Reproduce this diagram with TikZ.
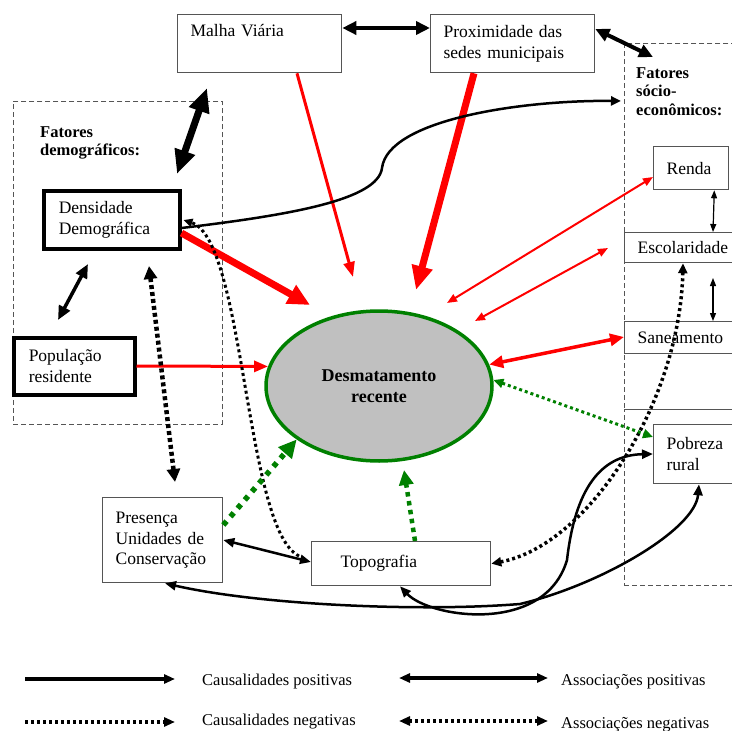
\documentclass[tikz,border=0pt]{standalone}
\usepackage{fontspec}
\setmainfont{Liberation Serif}
\usetikzlibrary{arrows.meta,shapes.geometric}
\definecolor{dgreen}{RGB}{0,128,0}
\definecolor{ellfill}{RGB}{192,192,192}
\definecolor{edge}{RGB}{85,85,85}
\begin{document}
\begin{tikzpicture}[x=1pt, y=-1pt, font=\fontsize{17.5}{20.5}\selectfont,
  box/.style={draw=edge, line width=1.3pt, anchor=north west, align=left, inner xsep=13pt, inner ysep=0pt},
  thickbox/.style={box, draw=black, line width=3.5pt, inner xsep=15pt},
  region/.style={draw=edge, line width=0.9pt, dash pattern=on 5pt off 3pt, anchor=north west, inner sep=0pt},
  grouptitle/.style={anchor=north west, align=left, inner sep=0pt, font=\bfseries\fontsize{16.5}{18.5}\selectfont},
  tipsize/.style 2 args={>={Triangle[length=#1,width=#2]}},
  neg/.style={dash pattern=on 3pt off 3pt},
  legendtext/.style={anchor=base west, inner sep=0pt, font=\fontsize{16.5}{20}\selectfont}]
\useasboundingbox (0,0) rectangle (732,731);
\clip (0,0) rectangle (732,731);

\node[box, minimum width=164pt, minimum height=58pt, text width=138pt] (malha) at (177,14) {Malha Viária\\\strut};
\node[box, minimum width=164pt, minimum height=58pt, text width=138pt] (prox) at (430,14) {Proximidade das\\sedes municipais};

\node[region, minimum width=209pt, minimum height=323pt] (demo) at (13,101) {};
\node[grouptitle] (demotitle) at (40,126) {Fatores\\demográficos:};
\node[thickbox, minimum width=136pt, minimum height=58pt, text width=106pt] (dens) at (42,189) {Densidade\\Demográfica};
\node[thickbox, minimum width=121pt, minimum height=57pt, text width=91pt] (pop) at (12,336) {População\\residente};

\node[region, minimum width=121pt, minimum height=366pt] (socio) at (624,43) {};
\node[region, minimum width=121pt, minimum height=176pt] (pobreg) at (624,409) {};
\node[grouptitle] (sociotitle) at (636,67) {Fatores\\sócio-\\econômicos:};
\node[box, minimum width=75pt, minimum height=43pt, text width=49pt] (renda) at (653,146) {Renda};
\node[box, minimum width=121pt, minimum height=30pt, text width=95pt] (escol) at (624,232) {Escolaridade};
\node[box, minimum width=121pt, minimum height=32pt, text width=95pt] (sane) at (624,321) {Saneamento};
\node[box, minimum width=92pt, minimum height=59pt, text width=66pt] (pobre) at (653,424) {Pobreza\\rural};

\node[box, minimum width=120pt, minimum height=85pt, text width=94pt] (pres) at (102,497) {Presença\\Unidades de\\Conservação};
\node[box, minimum width=179pt, minimum height=44pt, inner xsep=29pt, text width=121pt] (topo) at (311,541) {Topografia};

\node[ellipse, draw=dgreen, line width=3.5pt, fill=ellfill, minimum width=226pt, minimum height=150pt, inner sep=0pt,
  align=center, font=\bfseries\fontsize{18}{21}\selectfont] (ell) at (379,386) {Desmatamento\\recente};

\coordinate (mvLow) at (207,88);
\coordinate (demoTop) at (177,174);
\coordinate (mvTip) at (353,277);
\coordinate (pxTip) at (416,290);
\coordinate (dnTip) at (310,305);
\coordinate (dnLowA) at (88,264);
\coordinate (popTop) at (58,320);
\coordinate (dnLowB) at (149,266);
\coordinate (presTop) at (175,482);
\coordinate (rdTip) at (447,303);
\coordinate (esTipR) at (608,248);
\coordinate (esTipL) at (475,321);
\coordinate (esLow) at (713,278);
\coordinate (tpTip) at (404,470);

% associations between the groups
\draw[line width=4pt, tipsize={14pt}{13pt}, <->] ([yshift=-14pt]malha.north east) -- ([yshift=-14pt]prox.north west);
\draw[line width=4pt, tipsize={14pt}{13pt}, <->] ([yshift=-15pt]prox.north east) -- ([xshift=29pt,yshift=-14pt]socio.north west);
\draw[line width=7pt, tipsize={24pt}{20pt}, <->] (mvLow) -- (demoTop);

% causes of deforestation
\draw[red, line width=3pt, tipsize={15pt}{11pt}, ->] ([xshift=120pt]malha.south west) -- (mvTip);
\draw[red, line width=7pt, tipsize={24pt}{20pt}, ->] ([xshift=44pt]prox.south west) -- (pxTip);
\draw[red, line width=7pt, tipsize={22pt}{20pt}, ->] ([yshift=-44pt]dens.north east) -- (dnTip);
\draw[red, line width=3pt, tipsize={14pt}{11pt}, ->] ([yshift=-30pt]pop.north east) -- (ell.170);
\draw[red, line width=2pt, tipsize={10pt}{8pt}, <->] ([yshift=-31pt]renda.north west) -- (rdTip);
\draw[red, line width=2pt, tipsize={10pt}{8pt}, <->] (esTipR) -- (esTipL);
\draw[red, line width=3.5pt, tipsize={14pt}{12pt}, <->] ([yshift=-16pt]sane.north west) -- (ell.11);

\draw[line width=3.5pt, tipsize={14pt}{12pt}, <->] (dnLowA) -- (popTop);
\draw[neg, dash pattern=on 4pt off 3pt, line width=4.5pt, tipsize={13pt}{13pt}, <->] (dnLowB) -- (presTop);
\draw[neg, line width=3pt, tipsize={9pt}{8pt}, ->] ([xshift=-12pt,yshift=-15pt]topo.north west)
  .. controls (245,530) and (245,240) .. ([xshift=2pt,yshift=-31pt]dens.north east);
\draw[line width=2.5pt, tipsize={10pt}{9pt}, ->] ([yshift=-39pt]dens.north east)
  .. controls (290,215) and (378,200) .. (382,168)
  .. controls (388,120) and (520,100) .. ([xshift=-3pt,yshift=-58pt]socio.north west);

\draw[line width=1.2pt, tipsize={8pt}{6pt}, <->] ([xshift=-15pt]renda.south east) -- ([xshift=89pt]escol.north west);
\draw[line width=1.2pt, tipsize={8pt}{6pt}, <->] (esLow) -- ([xshift=89pt]sane.north west);
\draw[neg, line width=3.5pt, tipsize={10pt}{9pt}, <->] (topo.east)
  .. controls (590,545) and (680,400) .. ([xshift=59pt]escol.south west);

\draw[dgreen, neg, line width=3pt, tipsize={10pt}{9pt}, <->] (ell.3) -- ([yshift=-13pt]pobre.north west);
\draw[dgreen, dash pattern=on 5pt off 6pt, line width=5.5pt, tipsize={18pt}{17pt}, ->] ([yshift=-28pt]pres.north east) -- (ell.213);
\draw[dgreen, dash pattern=on 4.5pt off 4.5pt, line width=4.5pt, tipsize={15pt}{14pt}, ->] ([xshift=104pt]topo.north west) -- (tpTip);

\draw[line width=2.5pt, tipsize={11pt}{9pt}, <->] ([yshift=-43pt]pres.north east) -- ([yshift=-21pt]topo.north west);
\draw[line width=2.5pt, tipsize={11pt}{9pt}, <->] ([xshift=63pt]pres.south west)
  .. controls (260,605) and (420,612) .. (520,604)
  .. controls (600,585) and (695,530) .. ([xshift=46pt]pobre.south west);
\draw[line width=2.5pt, tipsize={11pt}{9pt}, <->] ([xshift=89pt]topo.south west)
  .. controls (430,618) and (545,635) .. (567,560)
  .. controls (575,490) and (600,455) .. ([yshift=-30pt]pobre.north west);

% legend
\coordinate (lgA) at (25,679);
\coordinate (lgB) at (175,679);
\coordinate (lgC) at (25,722);
\coordinate (lgD) at (175,722);
\coordinate (lgE) at (399,678);
\coordinate (lgF) at (548,678);
\coordinate (lgG) at (399,721);
\coordinate (lgH) at (548,721);
\draw[line width=3.5pt, tipsize={11pt}{9pt}, ->] (lgA) -- (lgB);
\draw[neg, line width=3.5pt, tipsize={11pt}{9pt}, ->] (lgC) -- (lgD);
\draw[line width=3.5pt, tipsize={11pt}{9pt}, <->] (lgE) -- (lgF);
\draw[neg, line width=3.5pt, tipsize={11pt}{9pt}, <->] (lgG) -- (lgH);
\node[legendtext] (lgtA) at (202,685) {Causalidades positivas};
\node[legendtext] (lgtB) at (202,725) {Causalidades negativas};
\node[legendtext] (lgtC) at (561,685) {Associações positivas};
\node[legendtext] (lgtD) at (561,728) {Associações negativas};
\end{tikzpicture}
\end{document}
